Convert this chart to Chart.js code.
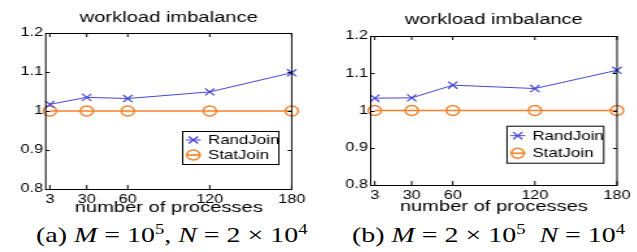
<!DOCTYPE html>
<html>
<head>
<meta charset="utf-8">
<script src="https://cdn.jsdelivr.net/npm/chart.js@4/dist/chart.umd.min.js"></script>
<style>
  html, body { margin: 0; padding: 0; background: #fff; }
  body { width: 637px; height: 252px; position: relative; overflow: hidden; }
  .panel { position: absolute; top: 0; width: 245px; height: 220px; transform: scaleX(1.3); transform-origin: 0 0; }
  .panel canvas { display: block; }
  .cap { position: absolute; top: 223px; font-family: "Liberation Serif", "Times New Roman", serif; font-size: 21px; color: #000; white-space: nowrap; transform: scaleX(1.33); transform-origin: 0 0; }
  .cap sup { font-size: 14px; vertical-align: 0; position: relative; top: -8px; }
</style>
</head>
<body>
<div class="panel" style="left:0px"><canvas id="ca" width="245" height="220" style="width:245px;height:220px"></canvas></div>
<div class="panel" style="left:318px"><canvas id="cb" width="245" height="220" style="width:245px;height:220px"></canvas></div>
<div class="cap" id="capA" style="left:36px">(a) <i>M</i> = 10<sup>5</sup>, <i>N</i> = 2 × 10<sup>4</sup></div>
<div class="cap" id="capB" style="left:352px">(b) <i>M</i> = 2 × 10<sup>5</sup>&nbsp; <i>N</i> = 10<sup>4</sup></div>
<script>
// ---- data ----
const processes = [3, 30, 60, 120, 180];
const xTicks = [3, 30, 60, 120, 180];
const yTicks = [0.8, 0.9, 1.0, 1.1, 1.2];
const randJoinA = [1.017, 1.035, 1.032, 1.049, 1.098];
const statJoinA = [1.0, 1.0, 1.0, 1.0, 1.0];
const randJoinB = [1.033, 1.034, 1.068, 1.059, 1.108];
const statJoinB = [1.0, 1.0, 1.0, 1.0, 1.0];
const seriesNames = ['RandJoin', 'StatJoin'];
const titleText = 'workload imbalance';
const xTitle = 'number of processes';

const BLUE = '#4545d8';
const ORANGE = '#f4812a';
const SX = 1.3;
const SANS = '"Liberation Sans", Arial, Helvetica, sans-serif';

function drawMarker(ctx, style, x, y, r, color, lw) {
  ctx.save();
  ctx.strokeStyle = color;
  ctx.lineWidth = lw;
  ctx.beginPath();
  if (style === 'crossRot') {
    const d = r * Math.SQRT1_2;
    ctx.moveTo(x - d, y - d); ctx.lineTo(x + d, y + d);
    ctx.moveTo(x + d, y - d); ctx.lineTo(x - d, y + d);
  } else {
    ctx.arc(x, y, r, 0, Math.PI * 2);
  }
  ctx.stroke();
  ctx.restore();
}

const boxPlugin = {
  id: 'matlabBox',
  afterDraw(chart, args, opts) {
    const ctx = chart.ctx;
    const a = chart.chartArea;
    const xs = chart.scales.x, ys = chart.scales.y;
    ctx.save();
    ctx.strokeStyle = '#000';
    ctx.lineWidth = 1;
    ctx.strokeRect(a.left, a.top + 0.5, a.right - a.left, a.bottom - a.top);
    ctx.beginPath();
    const tlx = 4 / SX, tly = 4;
    xs.ticks.forEach(t => {
      const p = xs.getPixelForValue(t.value);
      ctx.moveTo(p, a.bottom); ctx.lineTo(p, a.bottom - tly);
      ctx.moveTo(p, a.top); ctx.lineTo(p, a.top + tly);
    });
    ys.ticks.forEach(t => {
      const p = Math.round(ys.getPixelForValue(t.value)) + 0.5;
      ctx.moveTo(a.left, p); ctx.lineTo(a.left + tlx, p);
      ctx.moveTo(a.right, p); ctx.lineTo(a.right - tlx, p);
    });
    ctx.stroke();

    // legend box
    const L = opts;
    const bx = a.left + L.x, by = L.y;
    ctx.fillStyle = '#fff';
    ctx.fillRect(bx, by, L.w, L.h);
    ctx.strokeRect(bx, by + 0.5, L.w, L.h);
    ctx.font = '13px ' + SANS;
    ctx.textBaseline = 'middle';
    ctx.textAlign = 'left';
    chart.data.datasets.forEach((ds, i) => {
      const ry = by + L.rows[i];
      const x0 = bx + 2.5, x1 = bx + 14;
      ctx.beginPath();
      ctx.strokeStyle = ds.borderColor;
      ctx.lineWidth = ds.borderWidth;
      ctx.moveTo(x0, ry); ctx.lineTo(x1, ry);
      ctx.stroke();
      drawMarker(ctx, ds.pointStyle, (x0 + x1) / 2, ry, ds.pointRadius, ds.borderColor, ds.pointBorderWidth);
      ctx.fillStyle = '#000';
      ctx.fillText(ds.label, bx + 19.5, ry + 0.5);
    });
    ctx.restore();
  }
};

function makeChart(id, rand, stat, cfg) {
  const H = 220;
  return new Chart(document.getElementById(id), {
    type: 'line',
    data: {
      datasets: [
        { label: seriesNames[0], data: processes.map((p, i) => ({ x: p, y: rand[i] })),
          borderColor: BLUE, backgroundColor: BLUE, borderWidth: 1, pointStyle: 'crossRot',
          pointRadius: 5, pointBorderWidth: 1.2, pointBorderColor: BLUE, clip: false, tension: 0 },
        { label: seriesNames[1], data: processes.map((p, i) => ({ x: p, y: stat[i] })),
          borderColor: ORANGE, backgroundColor: 'rgba(0,0,0,0)', borderWidth: 1.6, pointStyle: 'circle',
          pointRadius: 5, pointBorderWidth: 1.4, pointBorderColor: ORANGE, pointBackgroundColor: 'rgba(0,0,0,0)', clip: false, tension: 0 }
      ]
    },
    options: {
      responsive: false,
      devicePixelRatio: 1,
      animation: false,
      events: [],
      layout: { padding: { left: 0, right: cfg.padRight, top: 0, bottom: 0 } },
      plugins: {
        legend: { display: false },
        tooltip: { enabled: false },
        title: { display: true, text: titleText, fullSize: false, color: '#000',
          font: { family: SANS, size: 15.5, weight: 'normal', lineHeight: 1.2 },
          padding: { top: cfg.titleTop, bottom: cfg.titleBottom } },
        matlabBox: cfg.legend
      },
      scales: {
        x: {
          type: 'linear', min: 0, max: 180,
          afterBuildTicks: s => { s.ticks = xTicks.map(v => ({ value: v })); },
          afterFit: s => { s.height = H - cfg.bottom; },
          grid: { display: false, drawTicks: false },
          border: { display: false },
          ticks: { color: '#000', padding: 3, maxRotation: 0, autoSkip: false,
            font: { family: SANS, size: 12.5 }, callback: v => String(v) },
          title: { display: true, text: xTitle, color: '#000',
            font: { family: SANS, size: 15.5, lineHeight: 1.2 }, padding: { top: 0, bottom: cfg.xTitleBottom } }
        },
        y: {
          type: 'linear', min: 0.8, max: 1.2,
          afterBuildTicks: s => { s.ticks = yTicks.map(v => ({ value: v })); },
          afterFit: s => { s.width = cfg.left; },
          grid: { display: false, drawTicks: false },
          border: { display: false },
          ticks: { color: '#000', padding: 2, font: { family: SANS, size: 12.5 },
            callback: v => String(+(+v).toFixed(1)) }
        }
      }
    },
    plugins: [boxPlugin]
  });
}

makeChart('ca', randJoinA, statJoinA, {
  left: 35.2, padRight: 20.6, bottom: 189, titleTop: 8.6, titleBottom: 5.8, xTitleBottom: 2.7,
  legend: { x: 140.5 - 35.2, y: 131, w: 74, h: 33, rows: [9, 24] }
});
makeChart('cb', randJoinB, statJoinB, {
  left: 40.5, padRight: 15, bottom: 185, titleTop: 10.3, titleBottom: 7.1, xTitleBottom: 4.4,
  legend: { x: 145.4 - 40.5, y: 125.7, w: 74.4, h: 37, rows: [10, 27.6] }
});
</script>
</body>
</html>
